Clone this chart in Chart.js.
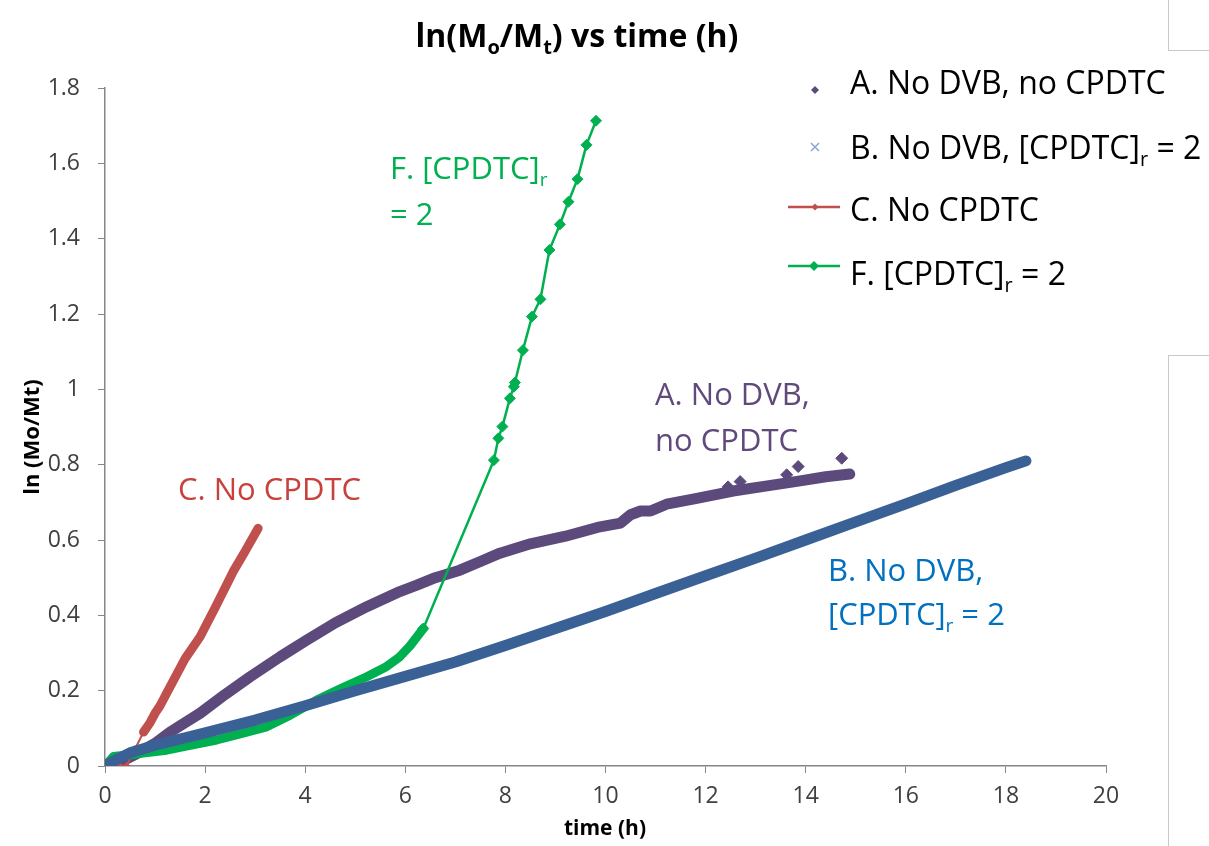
<!DOCTYPE html>
<html>
<head>
<meta charset="utf-8">
<title>ln(Mo/Mt) vs time (h)</title>
<script src="https://cdn.jsdelivr.net/npm/chart.js@4.4.1/dist/chart.umd.min.js"></script>
<style>
  body { margin: 0; background: #fff; }
  #wrap { position: relative; width: 1209px; height: 846px; }
  .panel { position: absolute; left: 1168px; width: 41px; border-left: 1px solid #c9c9c9; }
  #panelTop { top: 0; height: 50px; border-bottom: 1px solid #c9c9c9; }
  #panelLow { top: 355px; height: 491px; border-top: 1px solid #c9c9c9; }
</style>
</head>
<body>
<div id="wrap">
  <canvas id="kinetics" width="1209" height="846"></canvas>
  <div class="panel" id="panelTop"></div>
  <div class="panel" id="panelLow"></div>
</div>
<script>
// Axis ticks
const xTickValues = [0, 2, 4, 6, 8, 10, 12, 14, 16, 18, 20];
const yTickValues = [0, 0.2, 0.4, 0.6, 0.8, 1, 1.2, 1.4, 1.6, 1.8];
const yTickLabels = ["0", "0.2", "0.4", "0.6", "0.8", "1", "1.2", "1.4", "1.6", "1.8"];

// A. No DVB, no CPDTC
const aTime = [0, 0.3, 0.6, 1, 1.3, 1.6, 1.9, 2.4, 2.9, 3.5, 4.03, 4.6, 5.23, 5.89, 6.23, 6.6, 7.09, 7.5, 7.89, 8.5, 9.2, 9.89, 10.3, 10.5, 10.7, 10.9, 11.22, 11.8, 12.55, 13.2, 13.89, 14.4, 14.88];
const aLn = [0, 0.01, 0.03, 0.06, 0.09, 0.115, 0.14, 0.19, 0.237, 0.29, 0.334, 0.38, 0.423, 0.463, 0.48, 0.5, 0.52, 0.543, 0.565, 0.59, 0.61, 0.635, 0.645, 0.667, 0.677, 0.677, 0.695, 0.71, 0.73, 0.743, 0.757, 0.768, 0.775];
const aOutTime = [12.45, 12.69, 13.62, 13.85, 14.72];
const aOutLn = [0.741, 0.755, 0.773, 0.795, 0.817];

// B. No DVB, [CPDTC]r = 2
const bTime = [0, 0.2, 0.5, 1, 2, 3, 4, 5, 6, 7, 8, 9, 10, 11, 12, 13, 14, 15, 16, 17, 18, 18.4];
const bLn = [0, 0.015, 0.035, 0.055, 0.088, 0.122, 0.16, 0.2, 0.238, 0.276, 0.32, 0.365, 0.41, 0.458, 0.505, 0.552, 0.6, 0.648, 0.696, 0.745, 0.792, 0.81];

// C. No CPDTC
const cTime = [0.3, 0.43, 0.6, 0.77, 0.9, 1.0, 1.1, 1.23, 1.4, 1.6, 1.9, 2.2, 2.56, 2.8, 3.06];
const cLn = [0, 0, 0.045, 0.09, 0.115, 0.14, 0.16, 0.193, 0.235, 0.285, 0.343, 0.42, 0.516, 0.57, 0.631];

// F. [CPDTC]r = 2
const fTime = [0, 0.17, 0.5, 0.8, 1.23, 1.7, 2.23, 2.7, 3.23, 3.7, 4.23, 4.7, 5.23, 5.6, 5.89, 6.1, 6.36, 7.77, 7.86, 7.94, 8.09, 8.17, 8.19, 8.35, 8.53, 8.7, 8.88, 9.09, 9.26, 9.44, 9.62, 9.81];
const fLn = [0, 0.025, 0.03, 0.035, 0.042, 0.055, 0.069, 0.085, 0.104, 0.135, 0.175, 0.205, 0.237, 0.262, 0.29, 0.32, 0.365, 0.812, 0.87, 0.901, 0.976, 1.007, 1.018, 1.104, 1.193, 1.239, 1.37, 1.438, 1.498, 1.558, 1.649, 1.713];

const FONT = "'Open Sans', sans-serif";
const PURPLE = "#5d4a7d";
const BLUE = "#3a6195";
const RED = "#c0504d";
const GREEN = "#00b050";

function pairs(xs, ys) {
  return xs.map((x, i) => ({ x: x, y: ys[i] }));
}

// Text with subscripts: parts = [["text", false], ["r", true], ...]
function richText(ctx, parts, x, y, size, color, weight, align) {
  const base = `${weight} ${size}px ${FONT}`;
  const sub = `${weight} ${Math.round(size * 0.62)}px ${FONT}`;
  let width = 0;
  parts.forEach(([t, isSub]) => {
    ctx.font = isSub ? sub : base;
    width += ctx.measureText(t).width;
  });
  let cx = align === "center" ? x - width / 2 : x;
  ctx.fillStyle = color;
  ctx.textBaseline = "alphabetic";
  ctx.textAlign = "left";
  parts.forEach(([t, isSub]) => {
    ctx.font = isSub ? sub : base;
    ctx.fillText(t, cx, isSub ? y + size * 0.22 : y);
    cx += ctx.measureText(t).width;
  });
}

function diamond(ctx, x, y, r, color) {
  ctx.fillStyle = color;
  ctx.beginPath();
  ctx.moveTo(x, y - r);
  ctx.lineTo(x + r, y);
  ctx.lineTo(x, y + r);
  ctx.lineTo(x - r, y);
  ctx.closePath();
  ctx.fill();
}

// Titles, legend and in-plot labels
const overlay = {
  id: "overlay",
  afterDraw(chart) {
    const ctx = chart.ctx;
    ctx.save();

    // chart title
    richText(ctx, [["ln(M", false], ["o", true], ["/M", false], ["t", true], [") vs time (h)", false]],
      577, 47, 32, "#000", "bold", "center");

    // axis titles
    ctx.font = `bold 21px ${FONT}`;
    ctx.fillStyle = "#000";
    ctx.textAlign = "center";
    ctx.textBaseline = "middle";
    ctx.fillText("time (h)", 605, 829);
    ctx.font = `bold 22px ${FONT}`;
    ctx.translate(33, 437);
    ctx.rotate(-Math.PI / 2);
    ctx.fillText("ln (Mo/Mt)", 0, 0);
    ctx.setTransform(1, 0, 0, 1, 0, 0);

    // legend
    diamond(ctx, 815, 90, 4, PURPLE);
    richText(ctx, [["A. No DVB, no CPDTC", false]], 850, 94, 32, "#000", "normal", "left");

    ctx.strokeStyle = "#8ea6cf";
    ctx.lineWidth = 1.5;
    ctx.beginPath();
    ctx.moveTo(811, 143); ctx.lineTo(819, 151);
    ctx.moveTo(819, 143); ctx.lineTo(811, 151);
    ctx.stroke();
    richText(ctx, [["B. No DVB, [CPDTC]", false], ["r", true], [" = 2", false]], 850, 159, 32, "#000", "normal", "left");

    ctx.strokeStyle = RED;
    ctx.lineWidth = 2.5;
    ctx.beginPath();
    ctx.moveTo(788, 207); ctx.lineTo(840, 207);
    ctx.stroke();
    diamond(ctx, 815, 207, 3.5, RED);
    richText(ctx, [["C. No CPDTC", false]], 850, 221, 32, "#000", "normal", "left");

    ctx.strokeStyle = GREEN;
    ctx.beginPath();
    ctx.moveTo(788, 266); ctx.lineTo(840, 266);
    ctx.stroke();
    diamond(ctx, 814, 266, 5, GREEN);
    richText(ctx, [["F. [CPDTC]", false], ["r", true], [" = 2", false]], 850, 285, 32, "#000", "normal", "left");

    // labels inside the plot
    richText(ctx, [["C. No CPDTC", false]], 178, 500, 31, "#c8413c", "normal", "left");
    richText(ctx, [["F. [CPDTC]", false], ["r", true]], 390, 179, 31, GREEN, "normal", "left");
    richText(ctx, [["= 2", false]], 390, 225, 31, GREEN, "normal", "left");
    richText(ctx, [["A. No DVB,", false]], 655, 405, 31, "#604a7b", "normal", "left");
    richText(ctx, [["no CPDTC", false]], 655, 451, 31, "#604a7b", "normal", "left");
    richText(ctx, [["B. No DVB,", false]], 828, 581, 31, "#0070c0", "normal", "left");
    richText(ctx, [["[CPDTC]", false], ["r", true], [" = 2", false]], 828, 625, 31, "#0070c0", "normal", "left");

    ctx.restore();
  },
};

const axisColor = "#868686";

new Chart(document.getElementById("kinetics"), {
  type: "line",
  data: {
    datasets: [
      {
        label: "B. No DVB, [CPDTC]r = 2",
        data: pairs(bTime, bLn),
        borderColor: BLUE,
        borderWidth: 11,
        borderCapStyle: "round",
        borderJoinStyle: "round",
        pointRadius: 0,
        order: 0,
      },
      {
        label: "F. [CPDTC]r = 2",
        data: pairs(fTime, fLn),
        borderColor: GREEN,
        backgroundColor: GREEN,
        borderCapStyle: "round",
        borderJoinStyle: "round",
        borderWidth: 9,
        segment: {
          borderWidth: (ctx) => (ctx.p0.parsed.x >= 6.36 ? 2.5 : 9),
        },
        pointStyle: "rectRot",
        pointRadius: (ctx) => (ctx.raw && ctx.raw.x > 6.3 ? 5.5 : 0),
        pointBorderWidth: 1,
        order: 1,
      },
      {
        label: "C. No CPDTC",
        data: pairs(cTime, cLn),
        borderColor: RED,
        backgroundColor: RED,
        borderCapStyle: "round",
        borderJoinStyle: "round",
        borderWidth: 9,
        segment: {
          borderWidth: (ctx) => (ctx.p0.parsed.x >= 0.76 ? 9 : 2),
        },
        pointStyle: "rectRot",
        pointRadius: (ctx) => (ctx.raw && ctx.raw.x < 0.76 ? 3.5 : 0),
        pointBorderWidth: 1,
        order: 2,
      },
      {
        label: "A. No DVB, no CPDTC",
        data: pairs(aTime, aLn),
        borderColor: PURPLE,
        borderWidth: 11,
        borderCapStyle: "round",
        borderJoinStyle: "round",
        pointRadius: 0,
        order: 3,
      },
      {
        label: "A. No DVB, no CPDTC (scatter)",
        data: pairs(aOutTime, aOutLn),
        showLine: false,
        backgroundColor: PURPLE,
        borderColor: PURPLE,
        pointStyle: "rectRot",
        pointRadius: 6,
        pointBorderWidth: 1,
        order: 3,
      },
    ],
  },
  options: {
    responsive: false,
    animation: false,
    events: [],
    layout: { padding: { top: 88, right: 103, left: 0, bottom: 0 } },
    plugins: {
      legend: { display: false },
      title: { display: false },
      tooltip: { enabled: false },
    },
    scales: {
      x: {
        type: "linear",
        min: 0,
        max: 20,
        afterBuildTicks: (scale) => {
          scale.ticks = xTickValues.map((v) => ({ value: v }));
        },
        afterFit: (scale) => {
          scale.height = 80;
        },
        ticks: {
          color: "#404040",
          font: { family: FONT, size: 23 },
          padding: 10,
          maxRotation: 0,
          callback: (v) => String(v),
        },
        grid: { drawOnChartArea: false, tickLength: 7, tickColor: axisColor },
        border: { color: axisColor, width: 1.5 },
      },
      y: {
        type: "linear",
        min: 0,
        max: 1.8,
        afterBuildTicks: (scale) => {
          scale.ticks = yTickValues.map((v) => ({ value: v }));
        },
        afterFit: (scale) => {
          scale.width = 105;
        },
        ticks: {
          color: "#404040",
          font: { family: FONT, size: 23 },
          padding: 18,
          callback: (v, i) => yTickLabels[i],
        },
        grid: { drawOnChartArea: false, tickLength: 7, tickColor: axisColor },
        border: { color: axisColor, width: 1.5 },
      },
    },
  },
  plugins: [overlay],
});
</script>
</body>
</html>
